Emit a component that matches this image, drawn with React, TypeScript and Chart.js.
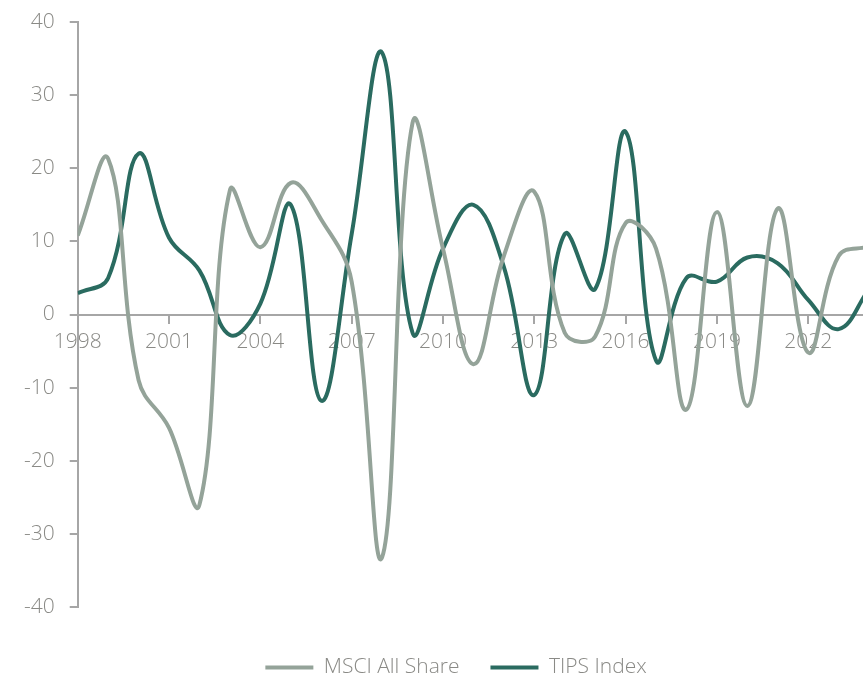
import React, { useEffect, useRef } from 'react';
import { Chart, registerables } from 'chart.js';

Chart.register(...registerables);

const years = [
  1998, 1999, 2000, 2001, 2002, 2003, 2004, 2005, 2006, 2007, 2008, 2009, 2010,
  2011, 2012, 2013, 2014, 2015, 2016, 2017, 2018, 2019, 2020, 2021, 2022, 2023, 2024,
];

const msciAllShare = [
  10.8, 21.3, -9, -15.5, -26, 17, 9.2, 18, 13, 4.5, -33.2, 26.2, 9,
  -6.8, 8, 16.8, -2.5, -3, 12.5, 9, -13, 14, -12.5, 14.5, -5.2, 8, 9.3,
];

const tipsIndex = [
  2.9, 5, 22, 10.5, 6, -2.8, 1.5, 15, -11.8, 11, 35.8, -2.5, 9,
  15, 6.5, -11, 11, 3.5, 25, -6.3, 5, 4.5, 7.8, 7, 2, -2, 3.5,
];

const xTickYears = [1998, 2001, 2004, 2007, 2010, 2013, 2016, 2019, 2022];
const yTickValues = [-40, -30, -20, -10, 0, 10, 20, 30, 40];

const seriesNames = ['MSCI All Share', 'TIPS Index'];
const seriesColors = ['#94A399', '#2A6B60'];

const xMin = 1998;
const xMax = 2023.8;

const axisColor = '#A6A6A6';
const textColor = '#8A8A86';
const fontFamily = "'Open Sans', 'Noto Sans', sans-serif";
const fontSize = 21;

const legendShift = {
  id: 'legendShift',
  afterLayout(chart: any) {
    if (chart.legend) {
      chart.legend.left += 20;
      chart.legend.right += 20;
    }
  },
};

export default function App() {
  const canvasRef = useRef<HTMLCanvasElement | null>(null);

  useEffect(() => {
    const canvas = canvasRef.current;
    if (!canvas) return;
    const toPoints = (vals: number[]) => years.map((y, i) => ({ x: y, y: vals[i] }));
    const textFont = { family: fontFamily, size: fontSize, weight: '300' as any };
    const chart = new Chart(canvas, {
      type: 'line',
      data: {
        datasets: [
          {
            label: seriesNames[0],
            data: toPoints(msciAllShare),
            borderColor: seriesColors[0],
            backgroundColor: seriesColors[0],
            borderWidth: 4,
            pointRadius: 0,
            pointHoverRadius: 0,
            tension: 0.4,
            fill: false,
          },
          {
            label: seriesNames[1],
            data: toPoints(tipsIndex),
            borderColor: seriesColors[1],
            backgroundColor: seriesColors[1],
            borderWidth: 4,
            pointRadius: 0,
            pointHoverRadius: 0,
            tension: 0.4,
            fill: false,
          },
        ],
      },
      options: {
        responsive: false,
        animation: false,
        layout: { padding: { left: 9, right: 0, top: 22, bottom: -10 } },
        scales: {
          x: {
            type: 'linear',
            position: { y: 0 } as any,
            min: xMin,
            max: xMax,
            afterBuildTicks: (scale: any) => {
              scale.ticks = xTickYears.map((v) => ({ value: v }));
            },
            ticks: {
              callback: (v: any) => String(v),
              color: textColor,
              font: textFont,
              padding: 7,
              maxRotation: 0,
              autoSkip: false,
            },
            grid: {
              display: true,
              drawOnChartArea: false,
              drawTicks: true,
              tickLength: 8,
              color: axisColor,
              lineWidth: 2,
            },
            border: { display: true, color: axisColor, width: 2 },
          },
          y: {
            type: 'linear',
            min: -40,
            max: 40,
            afterBuildTicks: (scale: any) => {
              scale.ticks = yTickValues.map((v) => ({ value: v }));
            },
            afterFit: (scale: any) => {
              scale.paddingTop = 0;
              scale.paddingBottom = 0;
            },
            ticks: {
              color: textColor,
              font: textFont,
              padding: 15,
            },
            grid: {
              display: true,
              drawOnChartArea: false,
              drawTicks: true,
              tickLength: 8,
              color: axisColor,
              lineWidth: 2,
            },
            border: { display: true, color: axisColor, width: 2 },
          },
        },
        plugins: {
          tooltip: { enabled: false },
          legend: {
            display: true,
            position: 'bottom',
            title: {
              display: true,
              text: '',
              padding: { top: 9, bottom: 9 },
              font: { size: 1, lineHeight: 1 },
            },
            labels: {
              boxWidth: 48,
              boxHeight: 4,
              padding: 31,
              color: textColor,
              font: textFont,
              generateLabels: (ch: any) =>
                ch.data.datasets.map((ds: any, i: number) => ({
                  text: ds.label,
                  fillStyle: ds.borderColor,
                  strokeStyle: ds.borderColor,
                  lineWidth: 0,
                  hidden: false,
                  datasetIndex: i,
                  fontColor: textColor,
                })),
            },
          },
        },
      },
      plugins: [legendShift],
    });
    return () => chart.destroy();
  }, []);

  return (
    <div style={{ position: 'fixed', left: 0, top: 0, width: 863, height: 678, background: '#fff' }}>
      <canvas ref={canvasRef} width={863} height={678} style={{ display: 'block' }} />
    </div>
  );
}
